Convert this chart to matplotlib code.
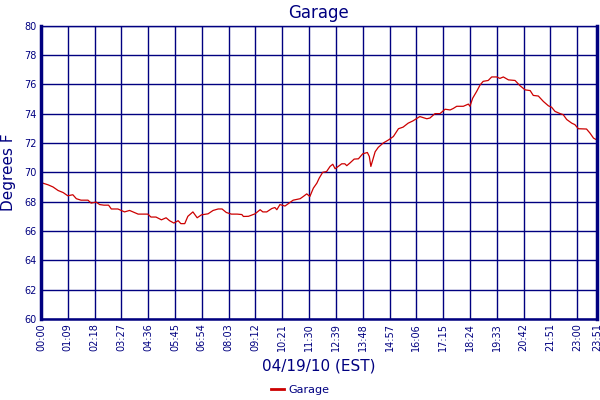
import numpy as np
import matplotlib
matplotlib.use('Agg')
import matplotlib.pyplot as plt

# minutes after midnight, temperature (deg F)
minutes = [0, 18, 31, 44, 57, 69, 82, 91, 103, 121, 129, 142, 151, 162, 174,
           181, 198, 215, 228, 250, 275, 283, 296, 310, 322, 331, 342, 353,
           360, 370, 378, 391, 402, 413, 430, 443, 456, 466, 477, 490, 505,
           517, 521, 534, 551, 564, 571, 581, 594, 602, 607, 615, 628, 636,
           649, 667, 675, 684, 692, 701, 710, 716, 725, 735, 744, 751, 757,
           765, 774, 782, 787, 795, 806, 817, 828, 840, 845, 849, 854, 860,
           868, 881, 894, 907, 920, 932, 945, 957, 975, 993, 1001, 1014,
           1027, 1040, 1053, 1061, 1070, 1087, 1100, 1104, 1111, 1121, 1130,
           1138, 1151, 1160, 1173, 1181, 1190, 1203, 1220, 1233, 1246, 1259,
           1267, 1280, 1293, 1306, 1314, 1323, 1336, 1344, 1353, 1366, 1374,
           1383, 1404, 1413, 1422, 1431]
temps = [69.3, 69.15, 69.0, 68.76, 68.62, 68.4, 68.47, 68.2, 68.1, 68.1, 67.9,
         67.97, 67.8, 67.76, 67.76, 67.5, 67.5, 67.3, 67.4, 67.15, 67.15,
         66.95, 66.95, 66.76, 66.9, 66.7, 66.54, 66.7, 66.5, 66.5, 67.0, 67.3,
         66.9, 67.1, 67.17, 67.4, 67.5, 67.5, 67.26, 67.15, 67.15, 67.12,
         66.99, 67.0, 67.17, 67.45, 67.3, 67.3, 67.53, 67.6, 67.45, 67.8,
         67.7, 67.85, 68.1, 68.2, 68.35, 68.53, 68.35, 68.92, 69.26, 69.6,
         70.0, 70.05, 70.4, 70.55, 70.24, 70.4, 70.58, 70.58, 70.45, 70.63,
         70.9, 70.92, 71.26, 71.35, 71.08, 70.4, 70.85, 71.4, 71.7, 72.0,
         72.2, 72.44, 72.97, 73.08, 73.35, 73.5, 73.8, 73.65, 73.7, 74.0,
         74.0, 74.3, 74.25, 74.35, 74.5, 74.5, 74.65, 74.5, 75.05, 75.5,
         75.95, 76.2, 76.26, 76.5, 76.5, 76.4, 76.5, 76.3, 76.26, 75.9, 75.62,
         75.57, 75.24, 75.2, 74.83, 74.53, 74.44, 74.15, 74.0, 73.93, 73.6,
         73.35, 73.25, 72.97, 72.95, 72.67, 72.33, 72.2]

x_ticks = list(range(0, 1381, 69)) + [1431]
x_labels = ['%02d:%02d' % (m // 60, m % 60) for m in x_ticks]
y_ticks = list(range(60, 81, 2))

navy = '#000080'
plt.rcParams['font.family'] = 'DejaVu Sans'

fig = plt.figure(figsize=(6, 4), dpi=100)
ax = fig.add_axes([0.0683, 0.2025, 0.9267, 0.7335])

ax.plot(minutes, temps, color='#cc0000', lw=0.9, label='Garage')

ax.set_xlim(0, 1431)
ax.set_ylim(60, 80)
ax.set_xticks(x_ticks)
ax.set_xticklabels(x_labels, rotation=90, fontsize=7, color=navy)
ax.set_yticks(y_ticks)
ax.set_yticklabels([str(v) for v in y_ticks], fontsize=7, color=navy)
ax.tick_params(length=0, pad=3)
ax.grid(True, color=navy, lw=1.0)
ax.set_axisbelow(True)

for side in ['left', 'right']:
    ax.spines[side].set_linewidth(2.5)
ax.spines['bottom'].set_linewidth(1.8)
ax.spines['top'].set_linewidth(1.0)
for s in ax.spines.values():
    s.set_color(navy)

ax.set_title('Garage', fontsize=12, color=navy, pad=5.5)
ax.set_ylabel('Degrees F', fontsize=11, color=navy, labelpad=6)
ax.set_xlabel('04/19/10 (EST)', fontsize=11, color=navy, labelpad=5)

leg = fig.legend(*ax.get_legend_handles_labels(), loc='center',
                 bbox_to_anchor=(0.5, 0.025), frameon=False, fontsize=8,
                 handlelength=1.2, handletextpad=0.4, labelcolor=navy,
                 borderpad=0.1)
leg.get_lines()[0].set_linewidth(2)

fig.savefig('out.png', dpi=100)
